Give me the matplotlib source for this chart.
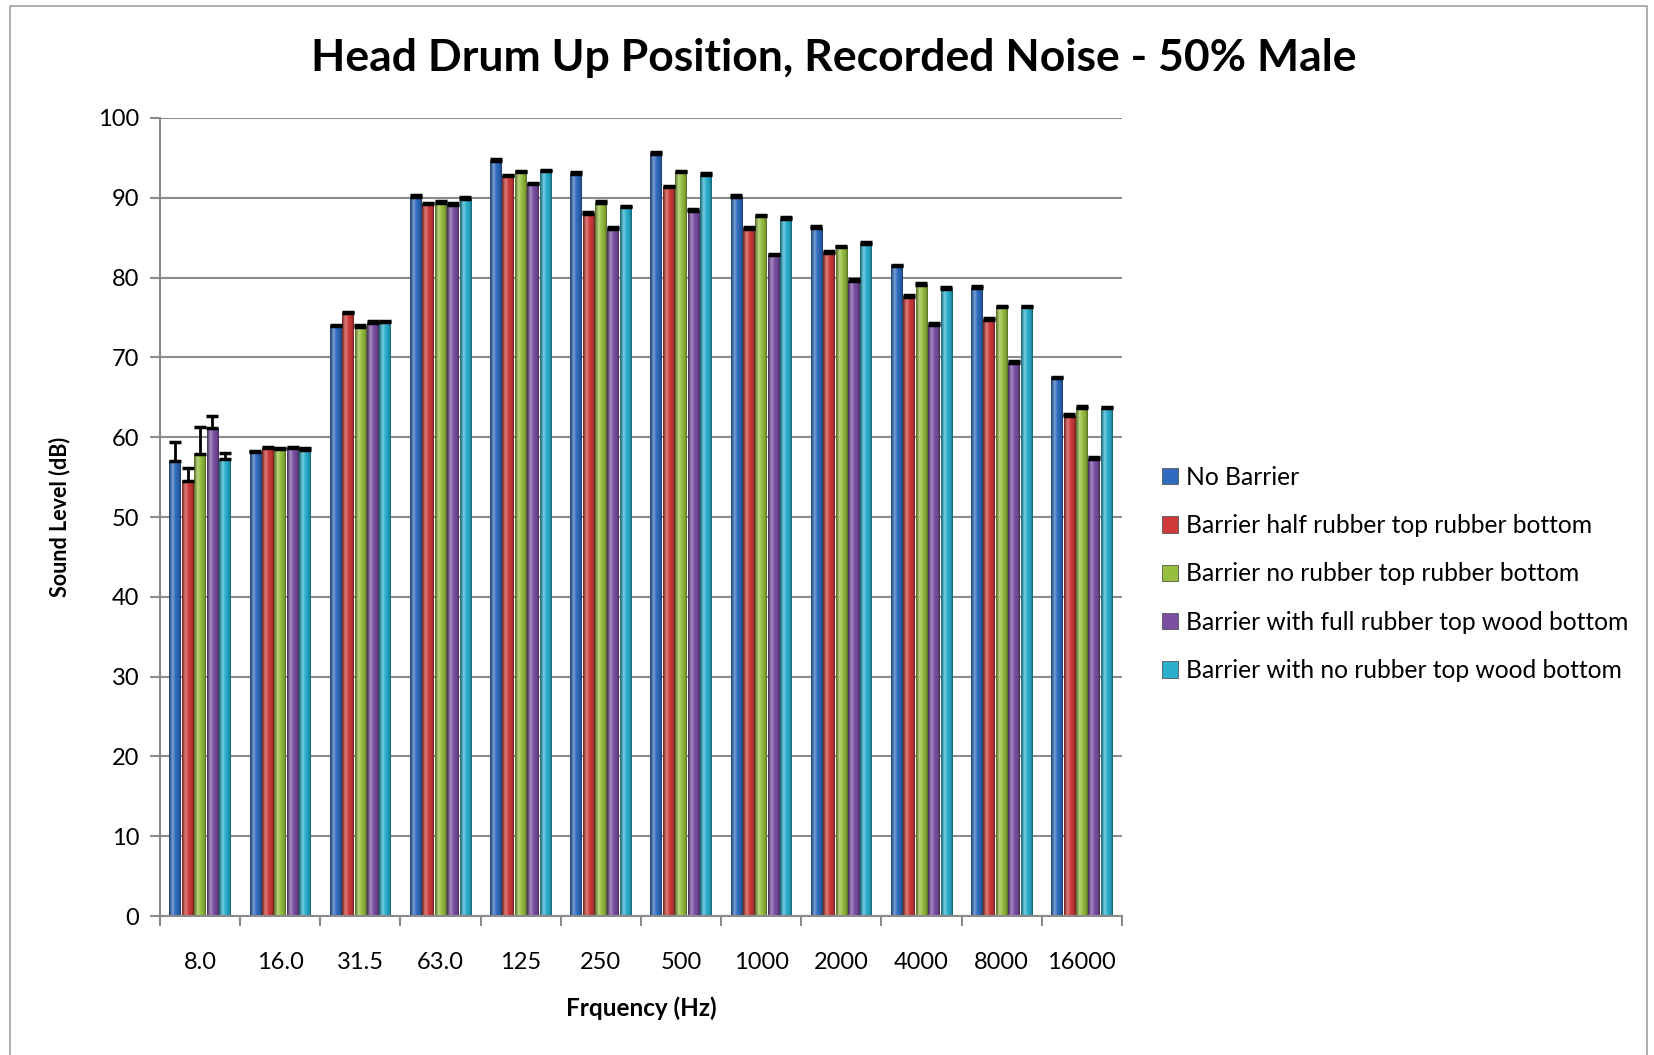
import matplotlib
matplotlib.use("Agg")
import matplotlib.pyplot as plt
import numpy as np
from matplotlib.colors import LinearSegmentedColormap, to_rgb
from matplotlib.patches import Patch, Rectangle

plt.rcParams["font.family"] = ["Lato", "DejaVu Sans"]

frequencies = ["8.0", "16.0", "31.5", "63.0", "125", "250", "500",
               "1000", "2000", "4000", "8000", "16000"]
series_names = [
    "No Barrier",
    "Barrier half rubber top rubber bottom",
    "Barrier no rubber top rubber bottom",
    "Barrier with full rubber top wood bottom",
    "Barrier with no rubber top wood bottom",
]
no_barrier = [57.0, 58.1, 73.9, 90.1, 94.6, 93.0, 95.5, 90.1, 86.2, 81.4, 78.7, 67.4]
half_rubber = [54.5, 58.6, 75.5, 89.2, 92.7, 88.0, 91.3, 86.1, 83.1, 77.6, 74.7, 62.7]
no_rubber_top = [57.9, 58.5, 73.8, 89.4, 93.2, 89.4, 93.2, 87.7, 83.8, 79.1, 76.3, 63.7]
full_rubber_wood = [61.1, 58.6, 74.3, 89.1, 91.7, 86.1, 88.4, 82.8, 79.6, 74.1, 69.3, 57.3]
no_rubber_wood = [57.3, 58.4, 74.4, 89.9, 93.3, 88.8, 92.9, 87.4, 84.2, 78.6, 76.3, 63.6]
values = [no_barrier, half_rubber, no_rubber_top, full_rubber_wood, no_rubber_wood]

# upper error bars (dB)
err_no_barrier = [2.4, 0.2, 0.2, 0.2, 0.2, 0.2, 0.2, 0.2, 0.2, 0.2, 0.2, 0.2]
err_half_rubber = [1.7, 0.2, 0.2, 0.2, 0.2, 0.2, 0.2, 0.2, 0.2, 0.2, 0.2, 0.2]
err_no_rubber_top = [3.4, 0.2, 0.2, 0.2, 0.2, 0.2, 0.2, 0.2, 0.2, 0.2, 0.2, 0.2]
err_full_rubber_wood = [1.5, 0.2, 0.2, 0.2, 0.2, 0.2, 0.2, 0.2, 0.2, 0.2, 0.2, 0.2]
err_no_rubber_wood = [0.7, 0.2, 0.2, 0.2, 0.2, 0.2, 0.2, 0.2, 0.2, 0.2, 0.2, 0.2]
errors = [err_no_barrier, err_half_rubber, err_no_rubber_top,
          err_full_rubber_wood, err_no_rubber_wood]

colors = ["#2f6cc0", "#cf3b3b", "#96bf3f", "#7a4fa3", "#2aafcc"]
grid_color = "#8c8c8c"

fig = plt.figure(figsize=(16.54, 10.55), dpi=100)
ax = fig.add_axes([0.0967, 0.1317, 0.5816, 0.7565])

x = np.arange(len(frequencies))
step = 0.155
width = 0.145
offsets = (np.arange(len(series_names)) - 2) * step


def shade(color):
    # cylinder-like horizontal shading: dark rims, light band left of centre
    r, g, b = to_rgb(color)
    dark = (r * 0.55, g * 0.55, b * 0.55)
    light = tuple(min(1, c + (1 - c) * 0.35) for c in (r, g, b))
    return LinearSegmentedColormap.from_list(
        "cyl", [(0, dark), (0.3, light), (0.55, (r, g, b)), (0.85, (r * 0.85, g * 0.85, b * 0.85)), (1, dark)])


grad = np.linspace(0, 1, 64).reshape(1, -1)
for vals, errs, color, off, name in zip(values, errors, colors, offsets, series_names):
    cmap = shade(color)
    bars = ax.bar(x + off, vals, width, color=color, edgecolor="none", zorder=2)
    for bar in bars:
        bx, bw, bh = bar.get_x(), bar.get_width(), bar.get_height()
        im = ax.imshow(grad, cmap=cmap, aspect="auto", extent=[bx, bx + bw, 0, bh],
                       zorder=2.5, interpolation="bilinear")
        im.set_clip_path(bar)
    ax.errorbar(x + off, vals, yerr=[np.zeros(len(vals)), errs], fmt="none",
                ecolor="black", elinewidth=2, capsize=4.5, capthick=2.5, zorder=3)

ax.set_xlim(-0.5, len(frequencies) - 0.5)
ax.set_ylim(0, 100)
ax.set_yticks(np.arange(0, 101, 10))
ax.yaxis.grid(True, color=grid_color, linewidth=1.5, zorder=0)
ax.set_axisbelow(True)

ax.set_xticks(np.arange(-0.5, len(frequencies)), minor=False)
ax.set_xticklabels([])
ax.set_xticks(x, minor=True)
ax.set_xticklabels(frequencies, minor=True)
ax.tick_params(axis="x", which="major", length=7, width=1.5, color=grid_color)
ax.tick_params(axis="x", which="minor", length=0, pad=26, labelsize=17)
ax.tick_params(axis="y", length=7, width=1.5, color=grid_color, labelsize=17, pad=8)

for side in ("top", "right"):
    ax.spines[side].set_visible(False)
for side in ("left", "bottom"):
    ax.spines[side].set_color(grid_color)
    ax.spines[side].set_linewidth(1.5)

ax.set_ylabel("Sound Level (dB)", fontsize=15.5, fontweight="bold", labelpad=20)
ax.set_xlabel("Frquency (Hz)", fontsize=17.5, fontweight="bold", labelpad=17)

fig.text(0.504, 0.945, "Head Drum Up Position, Recorded Noise - 50% Male",
         ha="center", va="center", fontsize=32, fontweight="bold")

handles = [Patch(facecolor=c, edgecolor="#555555", linewidth=0.6) for c in colors]
fig.legend(handles, series_names, loc="center left", bbox_to_anchor=(0.689, 0.456),
           frameon=False, fontsize=17.7, handlelength=0.65, handleheight=0.65,
           handletextpad=0.35, labelspacing=1.03)

fig.add_artist(Rectangle((0.006, -0.01), 0.99, 1.004, transform=fig.transFigure,
                         fill=False, edgecolor="#a0a0a0", linewidth=1.2))

fig.savefig("out.png", dpi=100)
